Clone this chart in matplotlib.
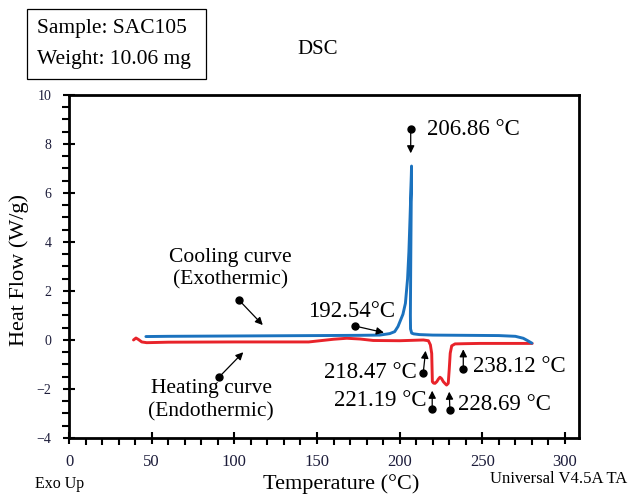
import numpy as np
import matplotlib.pyplot as plt
from matplotlib.patches import Rectangle
from matplotlib.ticker import MultipleLocator

plt.rcParams['font.family'] = ['Liberation Serif', 'DejaVu Serif']

# cooling curve (blue), temperature in C, heat flow in W/g
cool_T = [46.5, 60, 90, 120, 150, 175, 188, 194, 197, 199, 200.5, 202, 203.5,
          204.8, 205.6, 206.3, 206.9, 207.2, 207.0, 206.7, 206.5, 206.6, 207.3,
          208.5, 212, 220, 240, 260, 270, 274.8, 277.5, 280]
cool_HF = [0.14, 0.15, 0.16, 0.17, 0.18, 0.19, 0.2, 0.26, 0.34, 0.55, 0.8, 1.05,
           1.5, 2.5, 3.6, 5.0, 6.3, 7.1, 5.5, 3.0, 1.0, 0.45, 0.28, 0.25, 0.22,
           0.2, 0.19, 0.18, 0.15, 0.07, -0.03, -0.13]

# heating curve (red)
heat_T = [39, 40.5, 42, 44, 47, 60, 100, 145, 160, 168, 176, 184, 200, 214.4,
          217.4, 218.6, 219.4, 219.8, 220.5, 221.4, 222.5, 223.4, 224.4, 225.4,
          226.4, 227.5, 228.4, 229.4, 230.0, 230.6, 231.5, 233.5, 240, 248.6,
          265, 280.2]
heat_HF = [0.0, 0.08, 0.02, -0.08, -0.11, -0.09, -0.08, -0.08, 0.03, 0.07, 0.04,
           -0.02, -0.03, 0.0, -0.03, -0.2, -0.55, -1.7, -1.76, -1.77, -1.7, -1.6,
           -1.52, -1.58, -1.7, -1.78, -1.84, -1.77, -1.2, -0.54, -0.24, -0.16,
           -0.15, -0.14, -0.14, -0.14]

# point labels: text, text position, dot position, arrow tip
labels = ['206.86 °C', '192.54°C', '218.47 °C', '238.12 °C', '221.19 °C', '228.69 °C']
label_xy = [(216.3, 8.6), (171.2, 1.16), (210.5, -1.33), (244.4, -1.09), (216.5, -2.49), (235.3, -2.65)]
label_ha = ['left', 'center', 'right', 'left', 'right', 'left']
dot_xy = [(206.7, 8.6), (173.0, 0.57), (214.3, -1.33), (238.5, -1.2), (219.7, -2.83), (230.4, -2.86)]
tip_xy = [(206.7, 7.62), (190.5, 0.30), (215.7, -0.44), (238.5, -0.38), (219.7, -2.07), (230.0, -2.11)]

fig = plt.figure(figsize=(6.35, 4.94), dpi=100)
ax = fig.add_axes([0.1087, 0.1134, 0.8031, 0.6943])

ax.plot(cool_T, cool_HF, color='#1b72be', lw=2.1, solid_capstyle='round', zorder=3)
ax.plot(heat_T, heat_HF, color='#e8232a', lw=2.1, solid_capstyle='round', zorder=2)

ax.set_xlim(0, 308.5)
ax.set_ylim(-4, 10)
ax.xaxis.set_major_locator(MultipleLocator(50))
ax.xaxis.set_minor_locator(MultipleLocator(10))
ax.yaxis.set_major_locator(MultipleLocator(2))
ax.yaxis.set_minor_locator(MultipleLocator(0.5))
ax.tick_params(which='major', direction='inout', length=9, width=1.5, color='black')
ax.tick_params(which='minor', direction='out', length=5, width=1.5, color='black')
ax.tick_params(axis='x', which='major', labelsize=12, pad=7, labelcolor='#1c1c3a')
ax.tick_params(axis='y', which='major', labelsize=10, pad=8, labelcolor='#1c1c3a')
for s in ax.spines.values():
    s.set_linewidth(2)

aprops = dict(arrowstyle='-|>', color='black', lw=0.9, mutation_scale=11,
              shrinkA=0, shrinkB=0)
for txt, (tx, ty), ha, d, t in zip(labels, label_xy, label_ha, dot_xy, tip_xy):
    ax.annotate('', xy=t, xytext=d, arrowprops=aprops)
    ax.plot(*d, 'o', color='black', ms=5)
    ax.text(tx, ty, txt, ha=ha, va='center', fontsize=16.5)

# curve names
ax.text(97.5, 2.92, 'Cooling curve\n(Exothermic)', ha='center', va='center',
        fontsize=15.5, linespacing=1.25)
ax.annotate('', xy=(117.2, 0.61), xytext=(102.8, 1.63), arrowprops=aprops)
ax.plot(102.8, 1.63, 'o', color='black', ms=5)
ax.text(85.9, -2.46, 'Heating curve\n(Endothermic)', ha='center', va='center',
        fontsize=15.5, linespacing=1.25)
ax.annotate('', xy=(105.4, -0.5), xytext=(90.7, -1.52), arrowprops=aprops)
ax.plot(90.7, -1.52, 'o', color='black', ms=5)

fig.text(0.0307, 0.4534, 'Heat Flow (W/g)', rotation=90, ha='center', va='center', fontsize=16)
fig.text(0.537, 0.0202, 'Temperature (°C)', ha='center', va='center', fontsize=16)
fig.text(0.0937, 0.0202, 'Exo Up', ha='center', va='center', fontsize=11.5)
fig.text(0.7717, 0.0304, 'Universal V4.5A TA', ha='left', va='center', fontsize=12)
fig.text(0.5008, 0.8988, 'DSC', ha='center', va='center', fontsize=15)

# sample box
fig.patches.append(Rectangle((0.042, 0.840), 0.2824, 0.1411, transform=fig.transFigure,
                             fill=False, lw=0.9, edgecolor='black'))
fig.text(0.0578, 0.9427, 'Sample: SAC105', ha='left', va='center', fontsize=15.5)
fig.text(0.0578, 0.880, 'Weight: 10.06 mg', ha='left', va='center', fontsize=15.5)

fig.savefig('out.png', dpi=100)
